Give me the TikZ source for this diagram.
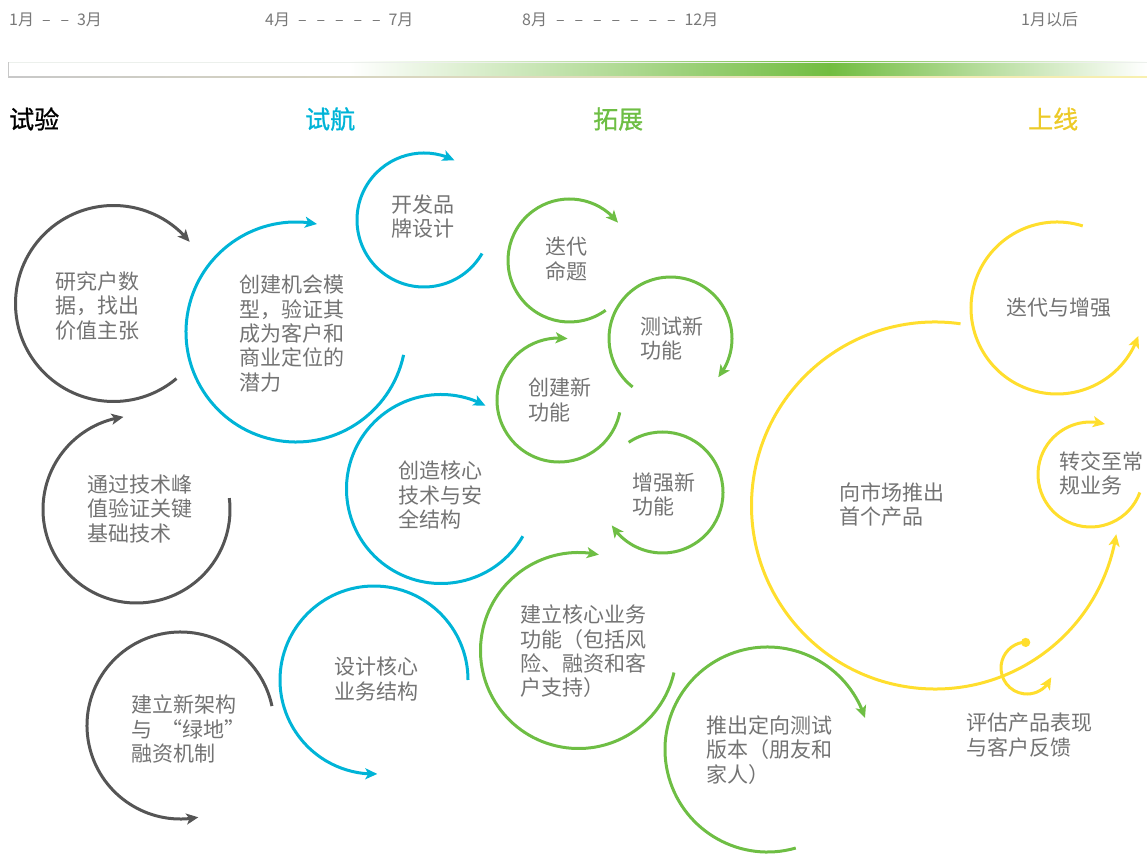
\documentclass[tikz,border=0pt]{standalone}
\usepackage{fontspec}
\setmainfont{Noto Sans CJK SC}
\usetikzlibrary{arrows.meta,bending}
\definecolor{cgray}{RGB}{85,85,85}
\definecolor{ccyan}{RGB}{0,180,215}
\definecolor{cgreen}{RGB}{110,190,68}
\definecolor{cyellow}{RGB}{255,222,45}
\definecolor{tyellow}{RGB}{236,202,40}
\definecolor{txtgray}{RGB}{115,115,115}
\definecolor{dategray}{RGB}{120,120,120}
\definecolor{bargreen}{RGB}{114,189,64}
\definecolor{lgray}{RGB}{200,200,200}
\definecolor{lcyan}{RGB}{178,228,236}
\definecolor{lyellow}{RGB}{248,240,175}
\newcommand{\mydash}{\makebox[18.5pt]{–}}
\begin{document}
\begin{tikzpicture}[x=1pt,y=1pt,
  arcline/.style={line width=3pt,-{Stealth[length=12pt,width=11pt,inset=3pt]}},
  garc/.style={arcline,draw=cgray,fill=none},
  carc/.style={arcline,draw=ccyan},
  narc/.style={arcline,draw=cgreen},
  yarc/.style={arcline,draw=cyellow},
  lbl/.style={anchor=west,align=left,inner sep=0pt,text=txtgray,font=\fontsize{21}{24.3}\selectfont},
  datelbl/.style={anchor=west,inner sep=0pt,text=dategray,font=\fontsize{16}{18}\selectfont},
  phase/.style={anchor=west,inner sep=0pt,font=\fontsize{25}{28}\selectfont\addfontfeature{FakeBold=0.8}}]
\useasboundingbox (0,0) rectangle (1147,857);

% time line labels
\node[datelbl] (d1) at (9,837) {1月\hspace{3pt}\mydash\mydash\hspace{3pt}3月};
\node[datelbl] (d2) at (265,837) {4月\hspace{3pt}\mydash\mydash\mydash\mydash\mydash\hspace{3pt}7月};
\node[datelbl] (d3) at (522,837) {8月\hspace{4pt}\mydash\mydash\mydash\mydash\mydash\mydash\mydash\hspace{4pt}12月};
\node[datelbl] (d4) at (1021,837) {1月以后};

% gradient bar
\fill[white] (8,780) rectangle (350,795);
\shade[left color=white,right color=bargreen] (349.5,780) rectangle (830,795);
\shade[left color=bargreen,right color=white] (829.5,780) rectangle (1147,795);
\draw[line width=0.6pt,draw={rgb,255:red,236;green,240;blue,236}] (8,795) -- (1147,795);
\shade[left color=lgray,middle color=lcyan,right color=lyellow] (8,779) rectangle (1147,780.6);
\draw[line width=1pt,lgray] (8.5,779) -- (8.5,795);

% phase titles
\node[phase,text=black] (p1) at (9,738) {试验};
\node[phase,text=ccyan] (p2) at (305,738) {试航};
\node[phase,text=cgreen] (p3) at (593,738) {拓展};
\node[phase,text=tyellow] (p4) at (1028,738) {上线};

% ---- gray circles
\coordinate (cA) at (113.5,553.5);
\node[lbl] (tA) at (55,551) {研究户数\\据，找出\\价值主张};
\draw[garc] ([shift={(-50:98)}]cA) arc[start angle=-50,end angle=-321,radius=98];

\coordinate (cD) at (136.5,347.5);
\node[lbl] (tD) at (87,348) {通过技术峰\\值验证关键\\基础技术};
\draw[garc] ([shift={(7:93.5)}]cD) arc[start angle=7,end angle=-262,radius=93.5];

\coordinate (cE) at (180.5,131.5);
\node[lbl] (tE) at (131,128) {建立新架构\\与\hspace{9pt}“绿地”\\融资机制};
\draw[garc] ([shift={(12:93.5)}]cE) arc[start angle=12,end angle=281,radius=93.5];

% ---- cyan circles
\coordinate (cB) at (296,525);
\node[lbl] (tB) at (239,523.5) {创建机会模\\型，验证其\\成为客户和\\商业定位的\\潜力};
\draw[carc] ([shift={(-12:110)}]cB) arc[start angle=-12,end angle=-281,radius=110];

\coordinate (cC) at (424,637);
\node[lbl] (tC) at (391,640.5) {开发品\\牌设计};
\draw[carc] ([shift={(-30:67)}]cC) arc[start angle=-30,end angle=-297,radius=67];

\coordinate (cF) at (441,368);
\node[lbl] (tF) at (398,362) {创造核心\\技术与安\\全结构};
\draw[carc] ([shift={(-30:94.5)}]cF) arc[start angle=-30,end angle=-298,radius=94.5];

\coordinate (cG) at (374,177);
\node[lbl] (tG) at (334,178) {设计核心\\业务结构};
\draw[carc] ([shift={(0:94)}]cG) arc[start angle=0,end angle=272,radius=94];

% ---- green circles
\coordinate (cH) at (569.5,596.5);
\node[lbl] (tH) at (545,598) {迭代\\命题};
\draw[narc] ([shift={(-54:61.5)}]cH) arc[start angle=-54,end angle=-322,radius=61.5];

\coordinate (cI) at (670.5,518.5);
\node[lbl] (tI) at (640,518.5) {测试新\\功能};
\draw[narc] ([shift={(232:61.5)}]cI) arc[start angle=232,end angle=-39,radius=61.5];

\coordinate (cJ) at (559,457);
\node[lbl] (tJ) at (528,457) {创建新\\功能};
\draw[narc] ([shift={(-11.5:62)}]cJ) arc[start angle=-11.5,end angle=-278,radius=62];

\coordinate (cK) at (662.5,364.5);
\node[lbl] (tK) at (632,362.5) {增强新\\功能};
\draw[narc] ([shift={(124:60.5)}]cK) arc[start angle=124,end angle=-147,radius=60.5];

\coordinate (cL) at (578.5,206.5);
\node[lbl] (tL) at (520,205.5) {建立核心业务\\功能（包括风\\险、融资和客\\户支持）};
\draw[narc] ([shift={(-13:98)}]cL) arc[start angle=-13,end angle=-282,radius=98];

\coordinate (cM) at (767.5,107.5);
\node[lbl] (tM) at (706,107) {推出定向测试\\版本（朋友和\\家人）};
\draw[narc] ([shift={(-74:102.5)}]cM) arc[start angle=-74,end angle=-342,radius=102.5];

% ---- yellow circles
\coordinate (cN) at (935,351.5);
\node[lbl] (tN) at (839,352.5) {向市场推出\\首个产品};
\draw[yarc] ([shift={(82:183.5)}]cN) arc[start angle=82,end angle=351,radius=183.5];

\coordinate (cO) at (1057,549);
\node[lbl] (tO) at (1006,549) {迭代与增强};
\draw[yarc] ([shift={(72.6:86)}]cO) arc[start angle=72.6,end angle=341,radius=86];

\coordinate (cP) at (1090.5,382.5);
\node[lbl] (tP) at (1059,383.5) {转交至常\\规业务};
\draw[yarc] ([shift={(-20:52.5)}]cP) arc[start angle=-20,end angle=-286,radius=52.5];

\coordinate (cQ) at (1027,189);
\node[lbl] (tQ) at (966,122) {评估产品表现\\与客户反馈};
\draw[yarc,{Circle[length=9pt]}-{Stealth[length=12pt,width=11pt,inset=3pt]}] ([shift={(83:26)}]cQ) arc[start angle=83,end angle=339,radius=26];
\end{tikzpicture}
\end{document}
